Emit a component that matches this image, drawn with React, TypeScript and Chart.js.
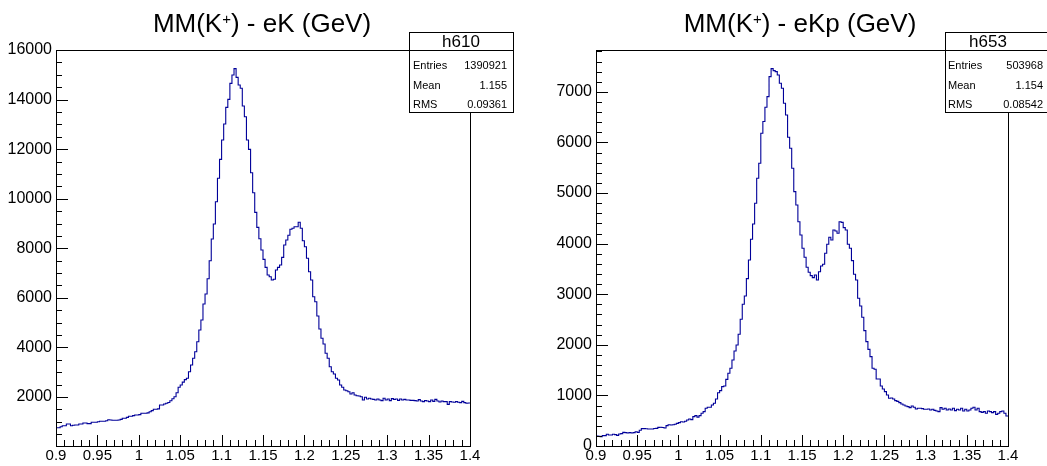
import React, { useEffect, useRef } from "react";
import { Chart, registerables } from "chart.js";

Chart.register(...registerables);

const FONT = '"Liberation Sans", Arial, Helvetica, sans-serif';

// ---- axis definitions ----
const X_MIN = 0.9;
const X_MAX = 1.4;
const BIN_WIDTH = 0.0025;
const xTickValues = [0.9, 0.95, 1.0, 1.05, 1.1, 1.15, 1.2, 1.25, 1.3, 1.35, 1.4];
const xTickLabels = ["0.9", "0.95", "1", "1.05", "1.1", "1.15", "1.2", "1.25", "1.3", "1.35", "1.4"];

const leftYTicks = [2000, 4000, 6000, 8000, 10000, 12000, 14000, 16000];
const rightYTicks = [0, 1000, 2000, 3000, 4000, 5000, 6000, 7000];

// ---- titles / stats ----
const leftTitle = ["MM(K", "+", ") - eK (GeV)"];
const rightTitle = ["MM(K", "+", ") - eKp (GeV)"];
const statLabels = ["Entries", "Mean", "RMS"];
const leftStatName = "h610";
const leftStatValues = ["1390921", "1.155", "0.09361"];
const rightStatName = "h653";
const rightStatValues = ["503968", "1.154", "0.08542"];

// ---- histogram contents (200 bins, 0.9 .. 1.4 GeV) ----
const leftCounts = [
  762, 762, 800, 843, 843, 911, 911, 843, 860, 870,
  870, 911, 911, 952, 952, 925, 925, 980, 980, 980,
  1000, 1020, 1020, 1020, 1040, 1085, 1070, 1061, 1061, 1061,
  1070, 1100, 1141, 1141, 1180, 1222, 1222, 1250, 1275, 1275,
  1290, 1343, 1343, 1343, 1360, 1408, 1450, 1504, 1504, 1520,
  1678, 1678, 1720, 1747, 1780, 1851, 1930, 2013, 2174, 2392,
  2485, 2600, 2700,
  2755, 3020, 3291, 3562, 3828, 4231, 4704, 5107, 5752, 6156,
  6773, 7499, 8374, 8979, 9879, 10823, 11589, 12368, 13013, 13687,
  14010, 14655, 14990, 15250,
  14897, 14587, 14454, 13740, 13308, 12368, 11992, 11049, 10242, 9451,
  8846, 8386, 7931, 7555, 7232, 6922, 6853, 6720, 6749, 7124,
  7232, 7325, 7635, 8132, 8334, 8524, 8766, 8806, 8870, 8870,
  9048, 8806, 8306, 8064, 7596, 7055, 6720, 6047, 5845,
  5268, 4744, 4368, 4139, 3763, 3562, 3223, 3021, 2928, 2755,
  2686, 2485, 2392, 2283, 2255, 2215, 2122, 2174, 2081, 2053,
  2040, 2013, 1880, 1989, 1920, 1950, 1920, 1905, 1880, 1920,
  1880, 1853, 1950, 1880, 1920, 1853, 1935, 1905, 1920, 1866,
  1920, 1880, 1905, 1880, 1880, 1866, 1866, 1853, 1840, 1893,
  1840, 1813, 1853, 1840, 1813, 1880, 1826, 1905, 1840, 1799,
  1840, 1813, 1813, 1705, 1813, 1799, 1786, 1813, 1786, 1772,
  1826, 1772, 1746, 1760,
];

const rightCounts = [
  198, 190, 185, 205, 205, 231, 218, 218, 231, 225,
  211, 237, 245, 270, 265, 257, 264, 257, 265, 283,
  270, 310, 343, 343, 340, 336, 336, 336, 345, 349,
  369, 372, 365, 356, 402, 420, 415, 420, 429, 448,
  462, 480, 475, 490, 514, 534, 521, 580, 600, 570,
  600, 646, 679, 745, 765, 765, 811, 844, 929, 1054,
  1094, 1173, 1186,
  1318, 1437, 1536, 1700, 1878, 1997, 2208, 2505, 2801, 2966,
  3308, 3677, 4086, 4389, 4798, 5292, 5589, 6182, 6414, 6696,
  6906, 7301, 7460, 7420, 7400, 7335, 7170, 7072, 6775, 6544,
  6103, 5885, 5490, 5028, 4765, 4434, 4171, 3908, 3730, 3532,
  3434, 3367, 3328, 3381, 3282, 3446, 3559, 3592, 3810, 3988,
  4126, 4073, 4270, 4250, 4205, 4434, 4420, 4316, 4270, 3988,
  3908, 3664, 3395, 3282, 2920, 2768,
  2544, 2280, 2063, 1911, 1766, 1536, 1516, 1325, 1325, 1186,
  1127, 1074, 1008, 943, 950, 930, 896, 883, 857, 830,
  811, 791, 778, 758, 791, 765, 731, 745, 745, 738,
  725, 725, 731, 712, 725, 705, 692, 679, 758, 725,
  745, 712, 731, 712, 745, 699, 725, 712, 745, 692,
  725, 692, 712, 745, 765, 712, 745, 679, 665, 679,
  646, 692, 679, 659, 679, 626, 646, 679, 692, 646,
  593,
];

type PanelCfg = {
  counts: number[];
  yMin: number;
  yMax: number;
  yTicks: number[];
  yMinorStep: number;
  yAxisWidth: number;
  padRight: number;
  canvasWidth: number;
  title: string[];
  titleCenter: number;
  statName: string;
  statValues: string[];
  box: { x: number; w: number; titleX: number; labelX: number; valueX: number };
};

function histPoints(counts: number[]) {
  const pts = counts.map((c, i) => ({ x: X_MIN + i * BIN_WIDTH, y: c }));
  pts.push({ x: X_MAX, y: counts[counts.length - 1] });
  return pts;
}

function Panel({ cfg, left }: { cfg: PanelCfg; left: number }) {
  const ref = useRef<HTMLCanvasElement | null>(null);
  useEffect(() => {
    if (!ref.current) return;
    const decor = {
      id: "rootDecor",
      afterDraw(chart: any) {
        const ctx = chart.ctx as CanvasRenderingContext2D;
        const a = chart.chartArea;
        const xs = chart.scales.x;
        const ys = chart.scales.y;
        ctx.save();
        ctx.strokeStyle = "#000";
        ctx.lineWidth = 1;
        // frame
        ctx.strokeRect(Math.round(a.left) + 0.5, Math.round(a.top) + 0.5, Math.round(a.right - a.left), Math.round(a.bottom - a.top));
        // x ticks
        ctx.beginPath();
        for (let k = 0; k <= 50; k++) {
          const v = X_MIN + k * 0.01;
          const px = Math.round(xs.getPixelForValue(v)) + 0.5;
          const len = k % 5 === 0 ? 11 : 6;
          ctx.moveTo(px, a.bottom);
          ctx.lineTo(px, a.bottom - len);
        }
        // y ticks
        for (let v = 0; v <= cfg.yMax + 1e-6; v += cfg.yMinorStep) {
          if (v < cfg.yMin) continue;
          const py = Math.round(ys.getPixelForValue(v)) + 0.5;
          const major = cfg.yTicks.includes(v);
          ctx.moveTo(a.left, py);
          ctx.lineTo(a.left + (major ? 12 : 6), py);
        }
        ctx.stroke();

        // title with superscript
        ctx.fillStyle = "#000";
        ctx.textBaseline = "alphabetic";
        ctx.textAlign = "left";
        const big = `26px ${FONT}`;
        const small = `15px ${FONT}`;
        ctx.font = big;
        const w1 = ctx.measureText(cfg.title[0]).width;
        const w3 = ctx.measureText(cfg.title[2]).width;
        ctx.font = small;
        const w2 = ctx.measureText(cfg.title[1]).width;
        let tx = cfg.titleCenter - (w1 + w2 + w3) / 2;
        const ty = 32;
        ctx.font = big;
        ctx.fillText(cfg.title[0], tx, ty);
        ctx.font = small;
        ctx.fillText(cfg.title[1], tx + w1, ty - 8);
        ctx.font = big;
        ctx.fillText(cfg.title[2], tx + w1 + w2, ty);

        // stats box
        const b = cfg.box;
        ctx.fillStyle = "#fff";
        ctx.fillRect(b.x, 32, b.w, 81);
        ctx.strokeRect(b.x + 0.5, 32.5, b.w, 80);
        ctx.beginPath();
        ctx.moveTo(b.x, 50.5);
        ctx.lineTo(b.x + b.w, 50.5);
        ctx.stroke();
        ctx.fillStyle = "#000";
        ctx.textAlign = "center";
        ctx.font = `17px ${FONT}`;
        ctx.fillText(cfg.statName, b.titleX, 47);
        ctx.font = `11px ${FONT}`;
        const rowsY = [69, 88.5, 108];
        statLabels.forEach((lab, i) => {
          ctx.textAlign = "left";
          ctx.fillText(lab, b.labelX, rowsY[i]);
          ctx.textAlign = "right";
          ctx.fillText(cfg.statValues[i], b.valueX, rowsY[i]);
        });
        ctx.restore();
      },
    };

    const chart = new Chart(ref.current, {
      type: "line",
      data: {
        datasets: [
          {
            data: histPoints(cfg.counts),
            borderColor: "#000099",
            borderWidth: 1.1,
            pointRadius: 0,
            stepped: "before",
            fill: false,
            tension: 0,
          } as any,
        ],
      },
      options: {
        animation: false,
        responsive: false,
        maintainAspectRatio: false,
        layout: { padding: { left: 0, top: 50, right: cfg.padRight, bottom: 0 } },
        plugins: { legend: { display: false }, tooltip: { enabled: false }, title: { display: false } },
        scales: {
          x: {
            type: "linear",
            min: X_MIN,
            max: X_MAX,
            grid: { display: false, drawTicks: false, tickLength: 0 },
            border: { display: false },
            afterBuildTicks: (s: any) => {
              s.ticks = xTickValues.map((v) => ({ value: v }));
            },
            afterFit: (s: any) => {
              s.height = 20;
            },
            ticks: {
              autoSkip: false,
              maxRotation: 0,
              minRotation: 0,
              padding: 1,
              color: "#000",
              font: { family: FONT, size: 15 },
              callback: (v: any) => {
                const i = xTickValues.findIndex((t) => Math.abs(t - Number(v)) < 1e-9);
                return i >= 0 ? xTickLabels[i] : "";
              },
            },
          },
          y: {
            type: "linear",
            min: cfg.yMin,
            max: cfg.yMax,
            grid: { display: false, drawTicks: false, tickLength: 0 },
            border: { display: false },
            afterBuildTicks: (s: any) => {
              s.ticks = cfg.yTicks.map((v) => ({ value: v }));
            },
            afterFit: (s: any) => {
              s.width = cfg.yAxisWidth;
            },
            ticks: {
              padding: 4,
              color: "#000",
              font: { family: FONT, size: 16 },
              callback: (v: any) => String(v),
            },
          },
        },
      } as any,
      plugins: [decor],
    });
    return () => chart.destroy();
  }, [cfg]);

  return (
    <canvas
      ref={ref}
      width={cfg.canvasWidth}
      height={466}
      style={{ position: "absolute", left, top: 0, width: cfg.canvasWidth, height: 466 }}
    />
  );
}

const leftCfg: PanelCfg = {
  counts: leftCounts,
  yMin: 24,
  yMax: 16000,
  yTicks: leftYTicks,
  yMinorStep: 500,
  yAxisWidth: 56,
  padRight: 53,
  canvasWidth: 523,
  title: leftTitle,
  titleCenter: 262,
  statName: leftStatName,
  statValues: leftStatValues,
  box: { x: 409, w: 104, titleX: 461, labelX: 413, valueX: 507 },
};

const rightCfg: PanelCfg = {
  counts: rightCounts,
  yMin: 0,
  yMax: 7828,
  yTicks: rightYTicks,
  yMinorStep: 200,
  yAxisWidth: 73,
  padRight: 39,
  canvasWidth: 524,
  title: rightTitle,
  titleCenter: 277,
  statName: rightStatName,
  statValues: rightStatValues,
  box: { x: 422, w: 120, titleX: 465, labelX: 425, valueX: 520 },
};

export default function App() {
  return (
    <div style={{ position: "fixed", left: 0, top: 0, width: 1047, height: 466, background: "#fff", overflow: "hidden" }}>
      <Panel cfg={leftCfg} left={0} />
      <Panel cfg={rightCfg} left={523} />
    </div>
  );
}
